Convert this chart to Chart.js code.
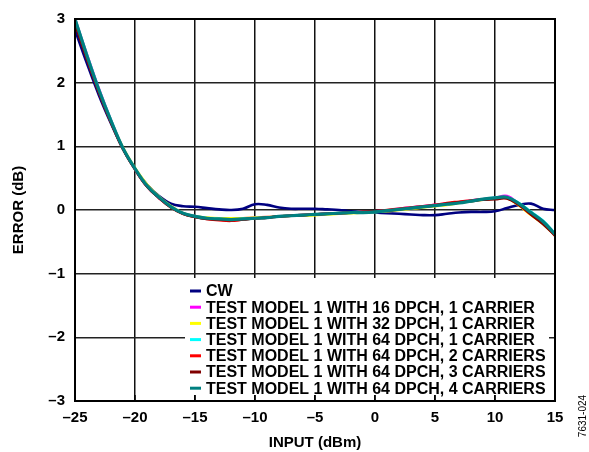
<!DOCTYPE html>
<html>
<head>
<meta charset="utf-8">
<script src="https://cdn.jsdelivr.net/npm/chart.js@4.4.0/dist/chart.umd.min.js"></script>
<style>
  html, body { margin: 0; padding: 0; background: #fff; }
  #wrap { width: 589px; height: 452px; }
</style>
</head>
<body>
<div id="wrap"><canvas id="chart" width="589" height="452"></canvas></div>
<script>
// Entrada (dBm), un punto por dB
const inputDbm = [-25, -24, -23, -22, -21, -20, -19, -18, -17, -16, -15, -14, -13, -12, -11, -10, -9, -8, -7, -6, -5,
                  -4, -3, -2, -1, 0, 1, 2, 3, 4, 5, 6, 7, 8, 9, 10, 11, 12, 13, 14, 15];

const cw =       [2.83, 2.30, 1.80, 1.36, 0.96, 0.65, 0.40, 0.22, 0.10, 0.06, 0.05, 0.03, 0.01, 0.00, 0.02, 0.09, 0.08, 0.04, 0.02, 0.02, 0.02,
                  0.01, 0.00, -0.02, -0.03, -0.04, -0.05, -0.06, -0.07, -0.08, -0.08, -0.06, -0.04, -0.03, -0.03, -0.02, 0.03, 0.08, 0.10, 0.02, 0.00];
const tm16dpch = [3.00, 2.44, 1.90, 1.41, 0.97, 0.64, 0.37, 0.19, 0.05, -0.05, -0.10, -0.13, -0.14, -0.14, -0.13, -0.12, -0.11, -0.10, -0.09, -0.08, -0.07,
                  -0.06, -0.05, -0.04, -0.03, -0.02, -0.01, 0.02, 0.04, 0.06, 0.08, 0.10, 0.12, 0.15, 0.17, 0.19, 0.22, 0.09, -0.06, -0.20, -0.38];
const tm32dpch = [2.98, 2.42, 1.88, 1.40, 0.98, 0.66, 0.40, 0.21, 0.06, -0.05, -0.10, -0.12, -0.13, -0.13, -0.13, -0.12, -0.11, -0.10, -0.09, -0.09, -0.08,
                  -0.07, -0.06, -0.05, -0.04, -0.03, -0.02, 0.00, 0.02, 0.04, 0.06, 0.08, 0.11, 0.14, 0.16, 0.18, 0.19, 0.07, -0.08, -0.22, -0.40];
const tm64c1 =   [3.00, 2.43, 1.89, 1.41, 0.97, 0.65, 0.38, 0.20, 0.05, -0.05, -0.10, -0.13, -0.14, -0.15, -0.14, -0.13, -0.12, -0.10, -0.09, -0.08, -0.07,
                  -0.06, -0.05, -0.04, -0.03, -0.03, -0.01, 0.01, 0.03, 0.05, 0.07, 0.09, 0.12, 0.14, 0.17, 0.19, 0.20, 0.11, -0.03, -0.17, -0.37];
const tm64c2 =   [2.95, 2.38, 1.85, 1.38, 0.96, 0.64, 0.37, 0.19, 0.04, -0.06, -0.11, -0.14, -0.16, -0.17, -0.15, -0.13, -0.12, -0.10, -0.09, -0.08, -0.07,
                  -0.06, -0.05, -0.04, -0.03, -0.02, 0.00, 0.02, 0.04, 0.06, 0.08, 0.11, 0.13, 0.15, 0.17, 0.18, 0.19, 0.08, -0.07, -0.21, -0.40];
const tm64c3 =   [2.93, 2.37, 1.85, 1.38, 0.96, 0.64, 0.37, 0.19, 0.04, -0.06, -0.11, -0.14, -0.15, -0.16, -0.15, -0.13, -0.12, -0.10, -0.09, -0.08, -0.07,
                  -0.06, -0.05, -0.04, -0.03, -0.02, -0.01, 0.01, 0.03, 0.05, 0.07, 0.10, 0.12, 0.14, 0.16, 0.17, 0.18, 0.08, -0.07, -0.22, -0.40];
const tm64c4 =   [3.00, 2.42, 1.88, 1.40, 0.97, 0.65, 0.38, 0.20, 0.05, -0.05, -0.10, -0.13, -0.14, -0.15, -0.14, -0.13, -0.12, -0.10, -0.09, -0.08, -0.07,
                  -0.06, -0.05, -0.04, -0.04, -0.03, -0.01, 0.01, 0.03, 0.05, 0.07, 0.09, 0.11, 0.14, 0.17, 0.19, 0.20, 0.10, -0.04, -0.18, -0.38];

const seriesNames = ['CW',
                     'TEST MODEL 1 WITH 16 DPCH, 1 CARRIER',
                     'TEST MODEL 1 WITH 32 DPCH, 1 CARRIER',
                     'TEST MODEL 1 WITH 64 DPCH, 1 CARRIER',
                     'TEST MODEL 1 WITH 64 DPCH, 2 CARRIERS',
                     'TEST MODEL 1 WITH 64 DPCH, 3 CARRIERS',
                     'TEST MODEL 1 WITH 64 DPCH, 4 CARRIERS'];
const seriesValues = [cw, tm16dpch, tm32dpch, tm64c1, tm64c2, tm64c3, tm64c4];
const seriesColors = ['#000080', '#ff00ff', '#ffff00', '#00ffff', '#ff0000', '#800000', '#008080'];

const xTicks = [-25, -20, -15, -10, -5, 0, 5, 10, 15];
const yTicks = [-3, -2, -1, 0, 1, 2, 3];

const FONT = "'Liberation Sans', Arial, sans-serif";
const dash = v => (v < 0 ? '\u2013' + Math.abs(v) : String(v));

// Recuadro, leyenda interior y marca de figura
const decor = {
    id: 'decor',
    afterDatasetsDraw(chart) {
        const { ctx, chartArea: a, scales: { x } } = chart;
        ctx.save();
        // caja blanca de la leyenda
        const bl = a.left + 110, br = a.right - 6, bt = a.top + 259, bb = a.bottom - 6;
        ctx.fillStyle = '#fff';
        ctx.fillRect(bl, bt, br - bl, bb - bt);
        // marcas cortas abajo
        ctx.strokeStyle = '#000';
        ctx.lineWidth = 1.5;
        xTicks.slice(1, -1).forEach(v => {
            const px = x.getPixelForValue(v);
            ctx.beginPath(); ctx.moveTo(px, bb); ctx.lineTo(px, a.bottom); ctx.stroke();
        });
        // entradas
        ctx.font = 'bold 16px ' + FONT;
        ctx.textBaseline = 'middle';
        ctx.textAlign = 'left';
        seriesNames.forEach((name, i) => {
            const ry = bt + 13 + i * 16.2;
            ctx.strokeStyle = seriesColors[i];
            ctx.lineWidth = 3;
            ctx.beginPath(); ctx.moveTo(bl + 5, ry); ctx.lineTo(bl + 16, ry); ctx.stroke();
            ctx.fillStyle = '#000';
            ctx.fillText(name, bl + 21, ry + 1);
        });
        // marco
        ctx.strokeStyle = '#000';
        ctx.lineWidth = 2;
        ctx.strokeRect(a.left, a.top, a.right - a.left, a.bottom - a.top);
        // codigo de figura
        ctx.translate(583, 416);
        ctx.rotate(-Math.PI / 2);
        ctx.font = '10px ' + FONT;
        ctx.textAlign = 'center';
        ctx.fillStyle = '#000';
        ctx.fillText('7631-024', 0, 0);
        ctx.restore();
    }
};

const chart = new Chart(document.getElementById('chart'), {
    type: 'line',
    data: {
        datasets: seriesValues.map((vals, i) => ({
            label: seriesNames[i],
            data: inputDbm.map((v, j) => ({ x: v, y: vals[j] })),
            borderColor: seriesColors[i],
            borderWidth: i === 6 ? 3.2 : 2.6,
            pointRadius: 0,
            tension: 0.4,
            fill: false,
            order: 6 - i
        }))
    },
    options: {
        responsive: false,
        animation: false,
        devicePixelRatio: 1,
        layout: { padding: { top: 16, right: 34, left: 0, bottom: 0 } },
        plugins: {
            legend: { display: false },
            tooltip: { enabled: false }
        },
        scales: {
            x: {
                type: 'linear',
                min: -25,
                max: 15,
                afterBuildTicks: s => { s.ticks = xTicks.map(v => ({ value: v })); },
                afterFit: s => { s.height = 51; },
                grid: { color: '#111', lineWidth: 1.5, drawTicks: false },
                border: { display: false },
                ticks: {
                    padding: 8,
                    maxRotation: 0,
                    color: '#000',
                    font: { family: FONT, size: 15, weight: 'bold' },
                    callback: dash
                },
                title: {
                    display: true,
                    text: 'INPUT (dBm)',
                    color: '#000',
                    font: { family: FONT, size: 15, weight: 'bold' },
                    padding: { top: 4, bottom: 0 }
                }
            },
            y: {
                min: -3,
                max: 3,
                afterBuildTicks: s => { s.ticks = yTicks.map(v => ({ value: v })); },
                afterFit: s => { s.width = 75; },
                grid: { color: '#222', lineWidth: 1.5, drawTicks: false },
                border: { display: false },
                ticks: {
                    padding: 10,
                    color: '#000',
                    font: { family: FONT, size: 15, weight: 'bold' },
                    callback: dash
                },
                title: {
                    display: true,
                    text: 'ERROR (dB)',
                    color: '#000',
                    font: { family: FONT, size: 15, weight: 'bold' },
                    padding: { top: 10, bottom: 0 }
                }
            }
        }
    },
    plugins: [decor]
});
</script>
</body>
</html>
